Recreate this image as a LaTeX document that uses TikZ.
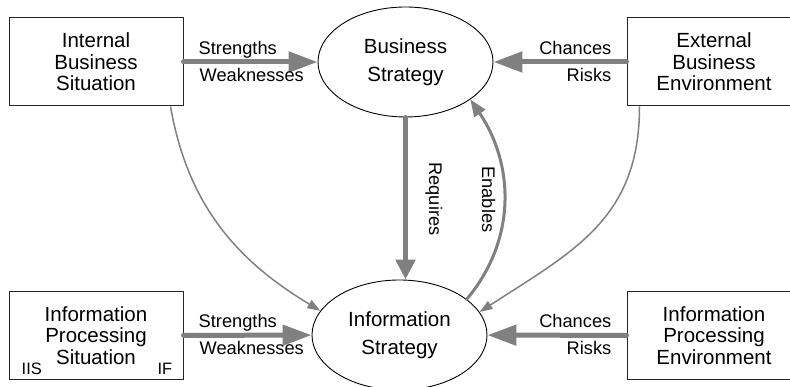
\documentclass[tikz,border=0pt]{standalone}
\usepackage{fontspec}
\setmainfont{Liberation Sans}
\usetikzlibrary{
  arrows.meta,
  shapes.geometric
}
\colorlet{flowGrey}{black!50}
\colorlet{frameGrey}{black!85}
\newcommand\boxFont{\fontsize{20.5}{21.5}\selectfont}
\newcommand\strategyFont{\fontsize{20.5}{28}\selectfont}
\newcommand\labelFont{\fontsize{18.25}{20}\selectfont}
\newcommand\tagFont{\fontsize{16.5}{18}\selectfont}
\tikzset{
  flow/.style={draw=flowGrey,line width=5pt,line cap=round,-{Triangle[length=29pt,width=20pt]}},
  enable/.style={draw=flowGrey,line width=3pt,line cap=round,-{Triangle[length=17pt,width=13pt]}},
  influence/.style={draw=flowGrey,line width=1.5pt,-{Triangle[length=13pt,width=9pt]}},
}

\begin{document}
\begin{tikzpicture}[
  x=1pt, y=1pt,
  box/.style={draw=frameGrey,line width=1pt,minimum width=174pt,minimum height=88pt,align=center,font=\boxFont},
  strategy/.style={ellipse,draw,line width=0.9pt,minimum width=175pt,minimum height=110pt,inner sep=0pt,align=center,font=\strategyFont},
  lbl/.style={inner sep=0pt,font=\labelFont},
  tag/.style={inner sep=0pt,font=\tagFont}
]
\useasboundingbox (0,0) rectangle (790,387);
% situations and environments
\node[box] (ibs) at (96,325) {Internal\\Business\\Situation};
\node[box] (ebe) at (714,325) {External\\Business\\Environment};
\node[box] (ips) at (96,51.5) {Information\\Processing\\Situation};
\node[box] (ipe) at (714,51.5) {Information\\Processing\\Environment};
\node[tag,anchor=base west] (iis) at ([xshift=13pt,yshift=5pt]ips.south west) {IIS};
\node[tag,anchor=base east] (if) at ([xshift=-11pt,yshift=5pt]ips.south east) {IF};
% strategies
\node[strategy] (bs) at (405.5,325) {Business\\Strategy};
\node[strategy] (is) at (399.5,52) {Information\\Strategy};
% thick flows
\draw[flow] (ibs) -- (bs);
\draw[flow] (ebe) -- (bs);
\draw[flow] (ips) -- (is);
\draw[flow] (ipe) -- (is);
\draw[flow,-{Triangle[length=20pt,width=19pt]}] (bs.south) -- (bs.south |- is.north);
\draw[enable] (is.28) to[out=50,in=-56] (bs.-30);
% thin influences
\draw[influence] ([xshift=-13pt]ibs.south east) to[out=-80,in=149] (is.163);
\draw[influence] ([xshift=13pt]ebe.south west) to[out=-90,in=33,looseness=1.1] (is.16);
% labels
\foreach \inner in {ibs,ips} {
  \node[lbl,anchor=base west] (\inner-s) at ([xshift=15pt,yshift=7.5pt]\inner.east) {Strengths};
  \node[lbl,anchor=base west] (\inner-w) at ([xshift=16pt,yshift=-19.5pt]\inner.east) {Weaknesses};
}
\foreach \outer in {ebe,ipe} {
  \node[lbl,anchor=base east] (\outer-c) at ([xshift=-15pt,yshift=7.5pt]\outer.west) {Chances};
  \node[lbl,anchor=base east] (\outer-r) at ([xshift=-15pt,yshift=-19.5pt]\outer.west) {Risks};
}
\node[lbl,rotate=-90,anchor=base] (req) at (429,188) {Requires};
\node[lbl,rotate=-90,anchor=base] (ena) at (482,187.5) {Enables};
\end{tikzpicture}
\end{document}
